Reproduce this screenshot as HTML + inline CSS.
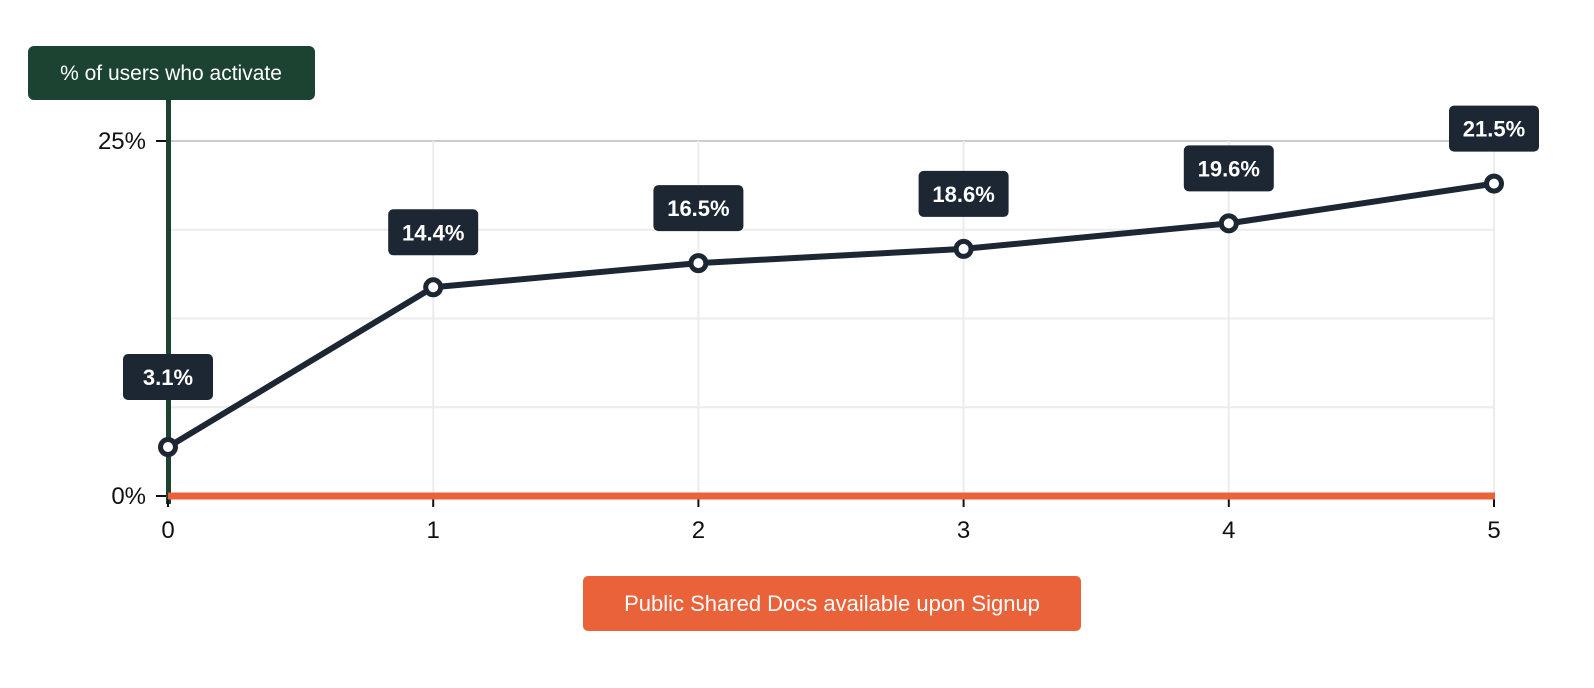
<!DOCTYPE html>
<html><head><meta charset="utf-8"><style>
body{margin:0;background:#fff;font-family:"Liberation Sans",Arial,sans-serif;}
svg{display:block}
</style></head><body>
<svg id="chart" width="1594" height="688">
  <g id="grid"></g>
  <rect x="166" y="100" width="5" height="404" fill="#1c4232"/>
  <g id="yticks"></g>
  <g id="xticks"></g>
  <rect x="168" y="492.5" width="1327" height="7" fill="#e96239"/>
  <g id="series"></g>
  <g id="labels"></g>
  <g>
    <rect x="28" y="46" width="287" height="54" rx="6" fill="#1c4232"/>
    <text x="171" y="80" text-anchor="middle" fill="#fff" font-size="21">% of users who activate</text>
  </g>
  <g>
    <rect x="583" y="576" width="498" height="55" rx="5" fill="#e96239"/>
    <text x="832" y="611" text-anchor="middle" fill="#fff" font-size="22">Public Shared Docs available upon Signup</text>
  </g>
</svg>
<script>
const categories = [0, 1, 2, 3, 4, 5];
const values = [3.45, 14.7, 16.4, 17.4, 19.2, 22.0];
const valueLabels = ["3.1%", "14.4%", "16.5%", "18.6%", "19.6%", "21.5%"];
const yTickValues = [0, 25];
const yTickLabels = ["0%", "25%"];
const yGridValues = [6.25, 12.5, 18.75, 25];

const NS = "http://www.w3.org/2000/svg";
function xs(v){ return 168 + v * 265.2; }
function ys(v){ return 496 - v * 14.2; }
function mk(tag, attrs, parent){
  const e = document.createElementNS(NS, tag);
  for (const k in attrs) e.setAttribute(k, attrs[k]);
  parent.appendChild(e); return e;
}
const grid = document.getElementById('grid');
yGridValues.forEach(v => {
  const l = mk('line', {x1:171, x2:1495, y1:ys(v), y2:ys(v), stroke: v===25?'#cccccc':'#ececec', 'stroke-width':2}, grid);
  
  
});
categories.forEach(c => {
  if (c === 0) return;
  const l = mk('line', {x1:xs(c), x2:xs(c), y1:141, y2:496, stroke:'#ececec', 'stroke-width':2}, grid);
  
  
});
const yt = document.getElementById('yticks');
yTickValues.forEach((v, i) => {
  mk('line', {x1:156, x2:166, y1:ys(v), y2:ys(v), stroke:'#111', 'stroke-width':2}, yt);
  const t = mk('text', {x:146, y:ys(v)+8, 'text-anchor':'end', 'font-size':24, fill:'#111'}, yt);
  t.textContent = yTickLabels[i];
  
  
});
const xt = document.getElementById('xticks');
categories.forEach(c => {
  mk('line', {x1:xs(c), x2:xs(c), y1:499, y2:507, stroke:'#111', 'stroke-width':2}, xt);
  const t = mk('text', {x:xs(c), y:538, 'text-anchor':'middle', 'font-size':24, fill:'#111'}, xt);
  t.textContent = String(c);
  
  
});
const s = document.getElementById('series');
const pts = categories.map((c, i) => xs(c) + ',' + ys(values[i])).join(' ');
const pl = mk('polyline', {points:pts, fill:'none', stroke:'#1c2733', 'stroke-width':6, 'stroke-linejoin':'round'}, s);


const lg = document.getElementById('labels');
categories.forEach((c, i) => {
  const cx = xs(c), cy = ys(values[i]);
  const p = mk('circle', {cx:cx, cy:cy, r:7.5, fill:'#fff', stroke:'#1c2733', 'stroke-width':5}, s);
  
  
  const off = i === 0 ? 70 : 55;
  const g = mk('g', {}, lg);
  
  
  const w = 90;
  mk('rect', {x:cx-w/2, y:cy-off-23, width:w, height:46, rx:5, fill:'#1c2733'}, g);
  const t = mk('text', {x:cx, y:cy-off+8, 'text-anchor':'middle', 'font-size':22, 'font-weight':'bold', fill:'#fff'}, g);
  t.textContent = valueLabels[i];
});
</script>
</body></html>
